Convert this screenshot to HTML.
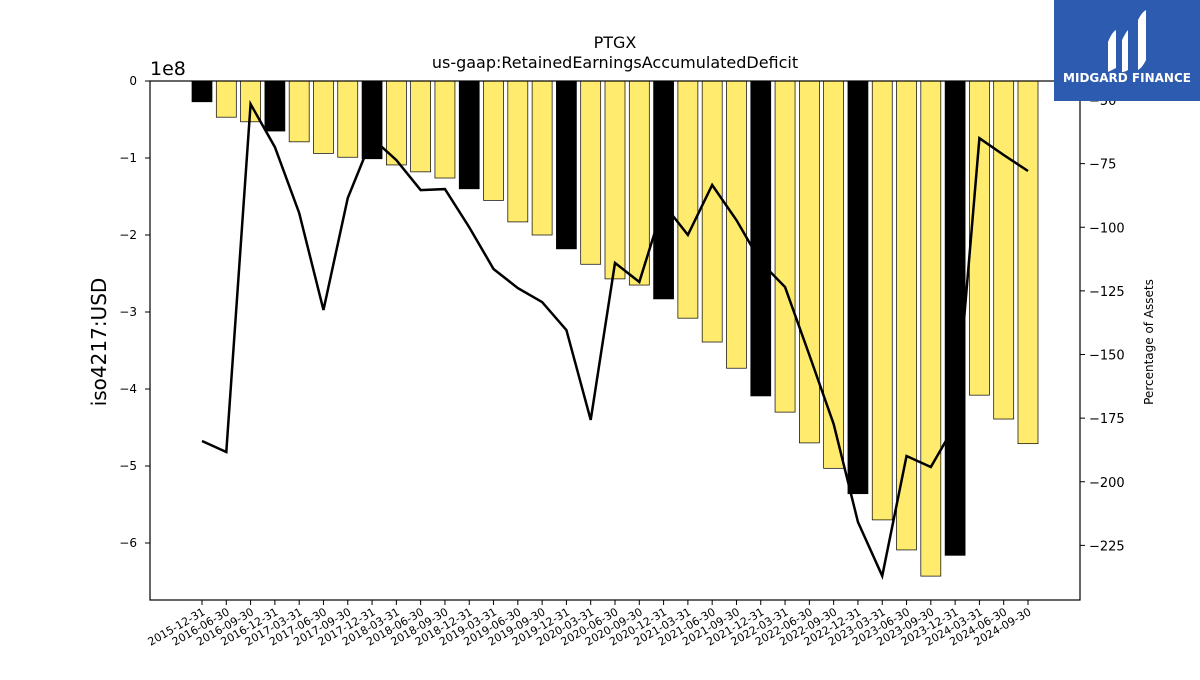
<!DOCTYPE html>
<html><head><meta charset="utf-8"><style>
body{margin:0;background:#fff;}
svg text{font-family:"DejaVu Sans","Liberation Sans",sans-serif;}
</style></head><body>
<svg id="chart" width="1200" height="675" xmlns="http://www.w3.org/2000/svg">
<text x="615" y="48" font-size="16" text-anchor="middle">PTGX</text>
<text x="615" y="68" font-size="16" text-anchor="middle">us-gaap:RetainedEarningsAccumulatedDeficit</text>
<g id="bars"></g>
<g id="line"></g>
<rect x="150" y="81" width="930" height="519" fill="none" stroke="#000" stroke-width="1.2"/>
<g id="yl"></g>
<g id="yr"></g>
<g id="xa"></g>
<text x="150" y="75" font-size="19">1e8</text>
<text transform="translate(106,342) rotate(-90)" font-size="20" text-anchor="middle">iso4217:USD</text>
<text transform="translate(1153,342) rotate(-90)" font-size="12" text-anchor="middle">Percentage of Assets</text>
<g>
<rect x="1054" y="0" width="146" height="101" fill="#2d5bb0"/>
<path d="M1108 42 q4 -10 8 -12 l0 38 q-4 2 -8 4 z M1122 40 q4 -8 6 -10 l0 40 q-3 2 -6 2 z M1138 20 q4 -8 8 -10 l0 50 q-4 8 -8 10 z" fill="#fff"/>
<text x="1127" y="82" font-size="12" font-weight="bold" fill="#fff" text-anchor="middle">MIDGARD FINANCE</text>
</g>
</svg>
<script>
const categories=["2015-12-31","2016-06-30","2016-09-30","2016-12-31","2017-03-31","2017-06-30","2017-09-30","2017-12-31","2018-03-31","2018-06-30","2018-09-30","2018-12-31","2019-03-31","2019-06-30","2019-09-30","2019-12-31","2020-03-31","2020-06-30","2020-09-30","2020-12-31","2021-03-31","2021-06-30","2021-09-30","2021-12-31","2022-03-31","2022-06-30","2022-09-30","2022-12-31","2023-03-31","2023-06-30","2023-09-30","2023-12-31","2024-03-31","2024-06-30","2024-09-30"];
const deficitValues=[-0.27,-0.47,-0.53,-0.65,-0.79,-0.94,-0.99,-1.01,-1.09,-1.18,-1.26,-1.40,-1.55,-1.83,-2.00,-2.18,-2.38,-2.57,-2.65,-2.83,-3.08,-3.39,-3.73,-4.09,-4.30,-4.70,-5.03,-5.36,-5.70,-6.09,-6.43,-6.16,-4.08,-4.39,-4.71];
const pctAssets=[-184,-188.3,-51.6,-68.5,-94.4,-132.5,-88.5,-65,-73.6,-85.4,-85,-100,-116.4,-123.9,-129.4,-140.4,-175.7,-114,-121.5,-90.9,-103,-83.4,-97.2,-113.7,-123.5,-150.2,-177.3,-215.8,-237,-189.9,-194.2,-177.7,-65,-71.6,-77.9];
const leftTicks=[0,-1,-2,-3,-4,-5,-6];
const rightTicks=[-50,-75,-100,-125,-150,-175,-200,-225];
const NS="http://www.w3.org/2000/svg";
const x=i=>202+i*(1028-202)/(categories.length-1);
const yL=v=>81-v*77;
const yR=v=>100-(v+50)*2.545;
function mk(t,a,p){const e=document.createElementNS(NS,t);for(const k in a)e.setAttribute(k,a[k]);p.appendChild(e);return e;}
const bars=document.getElementById('bars');
deficitValues.forEach((v,i)=>{const ye=categories[i].endsWith('12-31');
const r=mk('rect',{x:x(i)-10,y:yL(0),width:20,height:yL(v)-yL(0),fill:ye?'#000':'#ffec6e',stroke:'#000','stroke-width':0.7},bars);

});
const pl=mk('polyline',{points:pctAssets.map((v,i)=>x(i)+','+yR(v)).join(' '),fill:'none',stroke:'#000','stroke-width':2.5},document.getElementById('line'));


const yl=document.getElementById('yl');
leftTicks.forEach(v=>{mk('line',{x1:145,x2:150,y1:yL(v),y2:yL(v),stroke:'#000'},yl);
const t=mk('text',{x:137,y:yL(v)+4,'font-size':12,'text-anchor':'end'},yl);t.textContent=v===0?'0':'\u2212'+(-v);

});
const yr=document.getElementById('yr');
rightTicks.forEach(v=>{mk('line',{x1:1080,x2:1085,y1:yR(v),y2:yR(v),stroke:'#000'},yr);
const t=mk('text',{x:1089,y:yR(v)+5,'font-size':13},yr);t.textContent='\u2212'+(-v);

});
const xa=document.getElementById('xa');
categories.forEach((c,i)=>{mk('line',{x1:x(i),x2:x(i),y1:600,y2:605,stroke:'#000'},xa);
const t=mk('text',{transform:`translate(${x(i)+4},${614}) rotate(-30)`,'font-size':11,'text-anchor':'end'},xa);t.textContent=c;

});
</script>
</body></html>
